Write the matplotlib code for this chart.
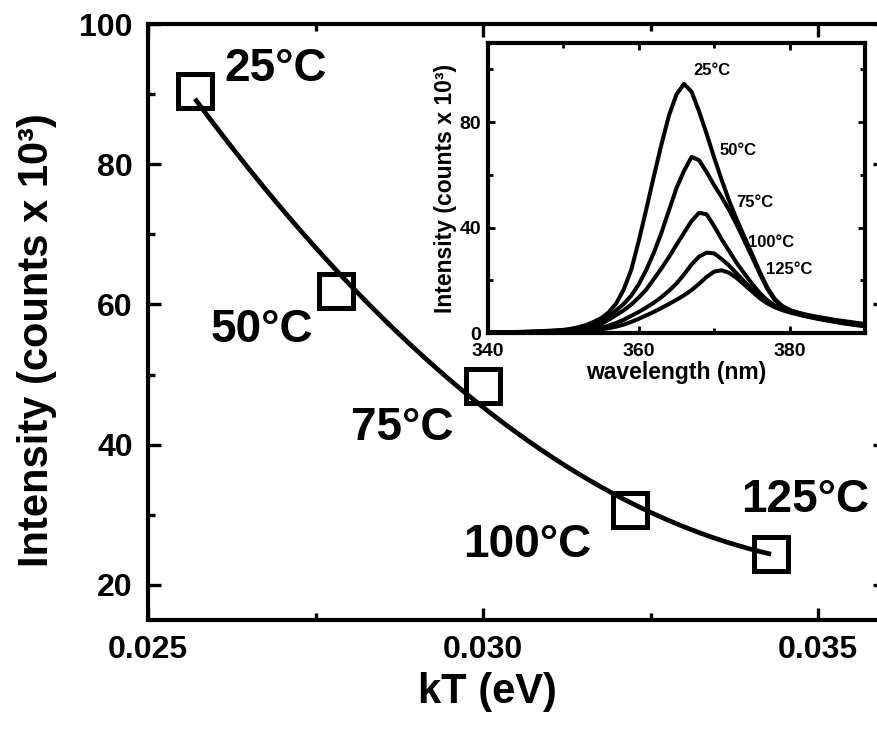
import numpy as np
import matplotlib
matplotlib.use("Agg")
import matplotlib.pyplot as plt

plt.rcParams['font.family'] = ['Liberation Sans', 'DejaVu Sans']
plt.rcParams['font.weight'] = 'bold'
plt.rcParams['axes.labelweight'] = 'bold'

# Integrated PL peak intensity versus thermal energy
temp_labels = ["25°C", "50°C", "75°C", "100°C", "125°C"]
kT = [0.0257, 0.0278, 0.0300, 0.0322, 0.0343]
peak_intensity = [90.4, 61.9, 48.4, 30.7, 24.4]

# PL spectra (counts x 10^3) at 1 nm steps, 340-390 nm
wavelength = list(range(340, 391))
spec_25 = [0.2, 0.25, 0.3, 0.35, 0.4, 0.5, 0.6, 0.7, 0.85, 1.0,
           1.2, 1.6, 2.2, 3.0, 4.2, 5.6, 7.8, 11.2, 16.5, 24.0,
           35.0, 47.0, 59.5, 71.5, 82.5, 90.5, 94.5, 91.5, 84.0, 75.5,
           66.5, 58.0, 50.0, 43.0, 36.5, 30.0, 23.5, 17.5, 13.0, 10.3,
           8.8, 7.8, 7.1, 6.5, 6.0, 5.5, 5.0, 4.6, 4.2, 3.8, 3.4]
spec_50 = [0.15, 0.2, 0.25, 0.3, 0.35, 0.4, 0.5, 0.6, 0.7, 0.85,
           1.0, 1.3, 1.8, 2.4, 3.3, 4.6, 6.5, 8.6, 11.0, 14.2,
           18.5, 24.0, 30.5, 38.0, 46.5, 55.0, 61.5, 66.8, 65.5, 61.0,
           56.0, 51.5, 46.5, 41.0, 35.0, 29.0, 22.8, 17.0, 12.6, 10.0,
           8.6, 7.7, 7.0, 6.3, 5.7, 5.2, 4.7, 4.3, 3.9, 3.5, 3.1]
spec_75 = [0.1, 0.15, 0.2, 0.25, 0.3, 0.35, 0.4, 0.5, 0.6, 0.7,
           0.8, 1.0, 1.3, 1.8, 2.5, 3.5, 5.0, 6.8, 8.6, 10.8,
           13.5, 16.5, 20.5, 24.5, 28.8, 33.5, 38.0, 42.5, 45.6, 45.0,
           40.5, 35.5, 31.0, 26.5, 22.5, 18.8, 15.3, 12.5, 10.5, 9.2,
           8.3, 7.5, 6.8, 6.2, 5.6, 5.1, 4.6, 4.1, 3.7, 3.3, 2.9]
spec_100 = [0.1, 0.1, 0.15, 0.2, 0.2, 0.25, 0.3, 0.35, 0.4, 0.5,
            0.6, 0.75, 0.9, 1.2, 1.5, 2.0, 2.8, 3.8, 5.0, 6.5,
            8.0, 9.7, 11.5, 13.6, 16.0, 18.8, 22.2, 26.0, 29.0, 30.5,
            30.2, 28.0, 25.5, 22.5, 19.5, 16.5, 13.8, 11.6, 10.0, 8.9,
            8.0, 7.3, 6.6, 6.0, 5.4, 4.9, 4.4, 3.9, 3.5, 3.1, 2.7]
spec_125 = [0.05, 0.1, 0.1, 0.15, 0.15, 0.2, 0.25, 0.3, 0.35, 0.4,
            0.5, 0.6, 0.7, 0.9, 1.1, 1.4, 1.8, 2.4, 3.2, 4.2,
            5.4, 6.7, 8.0, 9.5, 11.0, 12.6, 14.3, 16.3, 18.7, 21.3,
            23.3, 23.8, 22.8, 20.8, 18.3, 15.8, 13.3, 11.3, 9.8, 8.7,
            7.8, 7.1, 6.4, 5.8, 5.2, 4.7, 4.2, 3.7, 3.3, 2.9, 2.5]
spectra = [spec_25, spec_50, spec_75, spec_100, spec_125]

# label anchor positions
main_label_x = [0.02690, 0.02670, 0.02879, 0.03066, 0.03481]
main_label_y = [93.6, 56.4, 42.4, 25.7, 32.1]
inset_label_x = [369.7, 373.2, 375.4, 377.6, 380.0]
inset_label_y = [99.4, 69.3, 49.5, 34.3, 24.0]

W, H = 878, 735
fig = plt.figure(figsize=(W / 100, H / 100), dpi=100)

# ---- main panel ----
ax = fig.add_axes([148 / W, 1 - 620 / H, 737 / W, 596 / H])
coef = np.polyfit(kT, peak_intensity, 2)
xs = np.linspace(kT[0], kT[-1], 300)
ax.plot(xs, np.polyval(coef, xs), color='black', lw=3.4, solid_capstyle='butt')
ax.plot(kT, peak_intensity, linestyle='none', marker='s', ms=25,
        mfc='none', mec='black', mew=3.6)
for t, x, y in zip(temp_labels, main_label_x, main_label_y):
    ax.text(x, y, t, fontsize=33, fontweight='bold', ha='center', va='center')

ax.set_xlim(0.025, 0.036)
ax.set_ylim(15, 100)
ax.set_xticks([0.025, 0.030, 0.035])
ax.set_xticklabels(['0.025', '0.030', '0.035'])
ax.set_xticks([0.0275, 0.0325], minor=True)
ax.set_yticks([20, 40, 60, 80, 100])
ax.set_yticks([30, 50, 70, 90], minor=True)
ax.tick_params(which='both', direction='in', top=True, right=True,
               labelsize=23, width=2.4)
ax.tick_params(which='major', length=9, pad=11)
ax.tick_params(which='minor', length=5)
for s in ax.spines.values():
    s.set_linewidth(3)
ax.set_xlabel('kT (eV)', fontsize=30, fontweight='bold')
ax.set_ylabel('Intensity (counts x 10³)', fontsize=30, fontweight='bold')
ax.xaxis.set_label_coords(0.46, -0.121)
ax.xaxis.label.set_va('center')
ax.yaxis.set_label_coords(-0.150, 0.47)
ax.yaxis.label.set_va('center')

# ---- inset: spectra ----
ins = fig.add_axes([488 / W, 1 - 333 / H, 377 / W, 290 / H])
for spec in spectra:
    ins.plot(wavelength, spec, color='black', lw=2.9, solid_joinstyle='round')
for t, x, y in zip(temp_labels, inset_label_x, inset_label_y):
    ins.text(x, y, t, fontsize=12, fontweight='bold', ha='center', va='center')
ins.set_xlim(340, 390)
ins.set_ylim(0, 110)
ins.set_xticks([340, 360, 380])
ins.set_xticks([350, 370, 390], minor=True)
ins.set_yticks([0, 40, 80])
ins.set_yticks([20, 60, 100], minor=True)
ins.tick_params(which='both', direction='in', top=True, right=True,
                labelsize=14, width=2)
ins.tick_params(axis='x', which='major', length=5, pad=7)
ins.tick_params(axis='y', which='major', length=5, pad=5)
ins.tick_params(which='minor', length=3.5)
for s in ins.spines.values():
    s.set_linewidth(3)
ins.set_xlabel('wavelength (nm)', fontsize=16.5, fontweight='bold', labelpad=1)
ins.set_ylabel('Intensity (counts x 10³)', fontsize=16.5, fontweight='bold', labelpad=2)

fig.savefig('out.png', dpi=100)
